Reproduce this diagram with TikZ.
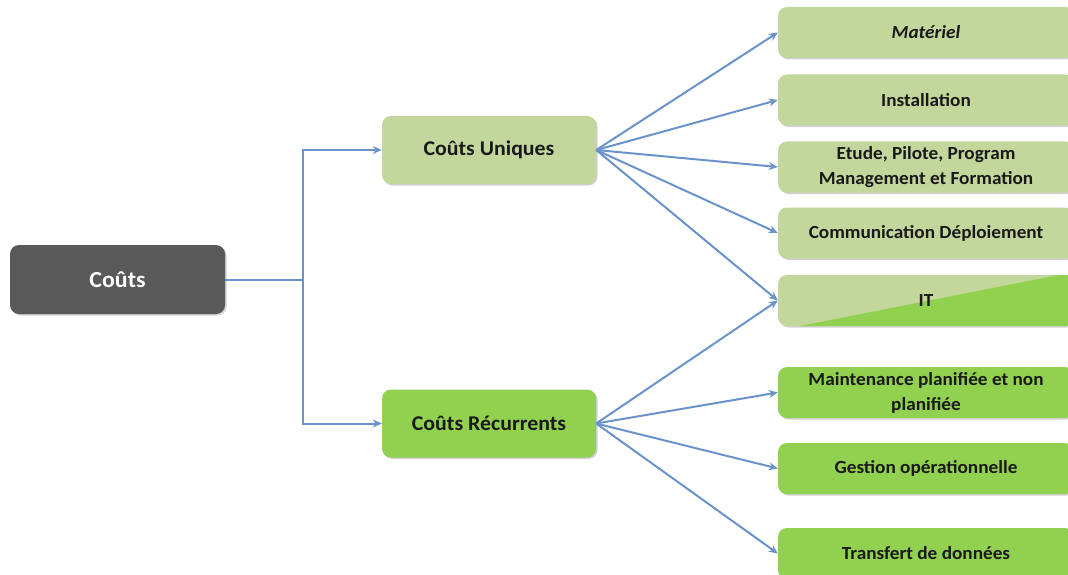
\documentclass[tikz,border=0pt]{standalone}
\usepackage{fontspec}
\setmainfont{Carlito}[FakeStretch=1.04]
\usetikzlibrary{arrows.meta,shadows}
\definecolor{lightg}{HTML}{C3D69B}
\definecolor{brightg}{HTML}{92D050}
\definecolor{darkbox}{HTML}{595959}
\definecolor{linkc}{HTML}{6A93CC}
\begin{document}
\begin{tikzpicture}[x=1pt,y=-1pt,
  box/.style={rounded corners=9pt, draw=none, inner sep=2pt, align=center,
    font=\bfseries, text=black!90,
    drop shadow={shadow xshift=1.5pt,shadow yshift=-1.5pt,fill=black!30,opacity=0.6}},
  rootbox/.style={box, fill=darkbox, text=white, minimum width=215pt, minimum height=69pt, font=\bfseries\fontsize{23}{26}\selectfont},
  midbox/.style={box, minimum width=214pt, minimum height=68pt, font=\bfseries\fontsize{21}{24}\selectfont},
  leaf/.style={box, minimum width=296pt, minimum height=51pt, font=\bfseries\fontsize{18.5}{25}\selectfont},
  link/.style={draw=linkc, line width=2pt, -{Stealth[length=9pt,width=8pt]}}
]
\useasboundingbox (0,0) rectangle (1068,575);
\clip (0,0) rectangle (1068,575);

\node[rootbox] (c) at (117.5,279.5) {Coûts};
\node[midbox, fill=lightg] (u) at (489,150) {Coûts Uniques};
\node[midbox, fill=brightg] (r) at (489,423.5) {Coûts Récurrents};

\node[leaf, fill=lightg] (mat) at (926,32.5) {\itshape Matériel};
\node[leaf, fill=lightg] (ins) at (926,100) {Installation};
\node[leaf, fill=lightg] (etu) at (926,167) {Etude, Pilote, Program\\Management et Formation};
\node[leaf, fill=lightg] (com) at (926,233) {Communication Déploiement};
\node[leaf, fill=lightg] (it) at (926,300.5) {};
\begin{scope}
  \clip[rounded corners=9pt] (it.south west) rectangle (it.north east);
  \fill[brightg] (800,326) -- (1074,272) -- (1074,330) -- cycle;
\end{scope}
\node[font=\bfseries\fontsize{18.5}{20}\selectfont, text=black!90] at (it.center) {IT};
\node[leaf, fill=brightg] (mai) at (926,392.5) {Maintenance planifiée et non\\planifiée};
\node[leaf, fill=brightg] (ges) at (926,468.5) {Gestion opérationnelle};
\node[leaf, fill=brightg] (tra) at (926,553.5) {Transfert de données};

\coordinate (j) at (303,279.5);
\draw[draw=linkc, line width=2pt] (c.east) -- (j);
\draw[link] (j) |- (u.west);
\draw[link] (j) |- (r.west);

\foreach \t in {mat,ins,etu,com,it} \draw[link] (u.east) -- (\t.west);
\foreach \t in {it,mai,ges,tra} \draw[link] (r.east) -- (\t.west);
\end{tikzpicture}
\end{document}
